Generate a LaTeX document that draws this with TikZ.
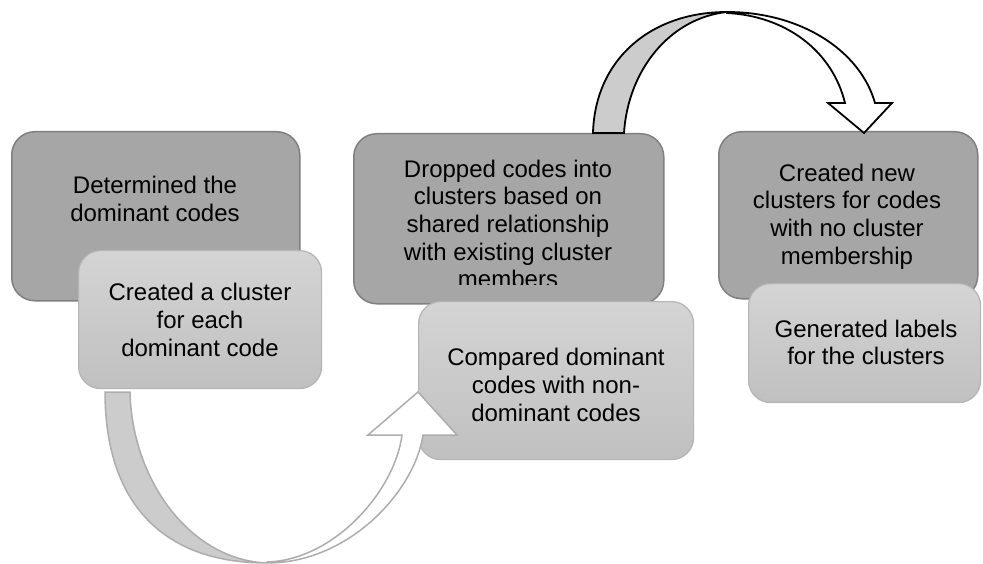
\documentclass[tikz,border=0pt]{standalone}
\usepackage{fontspec}
\setmainfont{Liberation Sans}
\definecolor{darkfill}{HTML}{A6A6A6}
\definecolor{darkline}{HTML}{808080}
\definecolor{lighttop}{HTML}{D4D4D4}
\definecolor{lightbot}{HTML}{C0C0C0}
\definecolor{lightline}{HTML}{B4B4B4}
\definecolor{ribbon}{HTML}{CCCCCC}
\definecolor{ribbonline}{HTML}{ADADAD}
\tikzset{
  darkbox/.style={draw=darkline, line width=1.5pt, fill=darkfill, rounded corners=23pt, anchor=north west, inner sep=0pt},
  lightbox/.style={draw=lightline, line width=1.2pt, top color=lighttop, bottom color=lightbot, rounded corners=22pt, anchor=north west, inner sep=0pt},
  boxtext/.style={align=center, font=\fontsize{24}{27.6}\selectfont, inner sep=0pt}
}
\begin{document}
\begin{tikzpicture}[x=1pt,y=-1pt]
\useasboundingbox (0,0) rectangle (983,564);
% group 1
\node[darkbox, minimum width=288pt, minimum height=169pt] (b1) at (11,131) {};
\node[boxtext] (t1) at (155,199) {Determined the\\dominant codes};
\node[lightbox, minimum width=243pt, minimum height=138pt] (b2) at (78,250) {};
\node[boxtext] (t2) at (200,320) {Created a cluster\\for each\\dominant code};
% group 2
\node[darkbox, minimum width=310pt, minimum height=170pt] (b3) at (353,133) {};
\begin{scope}
\clip (353,133) rectangle (663,284.5);
\node[boxtext] (t3) at (508,224) {Dropped codes into\\clusters based on\\shared relationship\\with existing cluster\\members};
\end{scope}
\node[lightbox, minimum width=275pt, minimum height=158pt] (b4) at (418,301) {};
\node[boxtext] (t4) at (556,385) {Compared dominant\\codes with non-\\dominant codes};
% group 3
\node[darkbox, minimum width=259pt, minimum height=167pt] (b5) at (718,131) {};
\node[boxtext] (t5) at (847,216.5) {Created new\\clusters for codes\\with no cluster\\membership};
\node[lightbox, minimum width=232pt, minimum height=119pt] (b6) at (748,283) {};
\node[boxtext] (t6) at (866,342.5) {Generated labels\\for the clusters};
% top curved arrow (black outline)
\draw[line width=1.8pt, fill=ribbon, line join=miter]
  (593,133) .. controls (595,60) and (650,12) .. (727,12)
  .. controls (670,18) and (628,70) .. (624,133) -- cycle;
\draw[line width=1.8pt, fill=white, line join=miter]
  (727,12) .. controls (800,12) and (860,50) .. (875,103)
  -- (892,103) -- (864,133) -- (828,103) -- (845,103)
  .. controls (832,50) and (785,16) .. (727,13) -- cycle;
% bottom curved arrow (gray outline)
\draw[line width=1.5pt, draw=ribbonline, fill=ribbon, line join=miter]
  (105,392) .. controls (105,500) and (160,563) .. (267,563)
  .. controls (190,560) and (132,480) .. (130,392) -- cycle;
\draw[line width=1.5pt, draw=ribbonline, fill=white, line join=miter]
  (267,563) .. controls (350,563) and (415,490) .. (423,435)
  -- (457,435) -- (418,392) -- (368,435) -- (402,435)
  .. controls (395,490) and (335,560) .. (267,562) -- cycle;
\end{tikzpicture}
\end{document}
